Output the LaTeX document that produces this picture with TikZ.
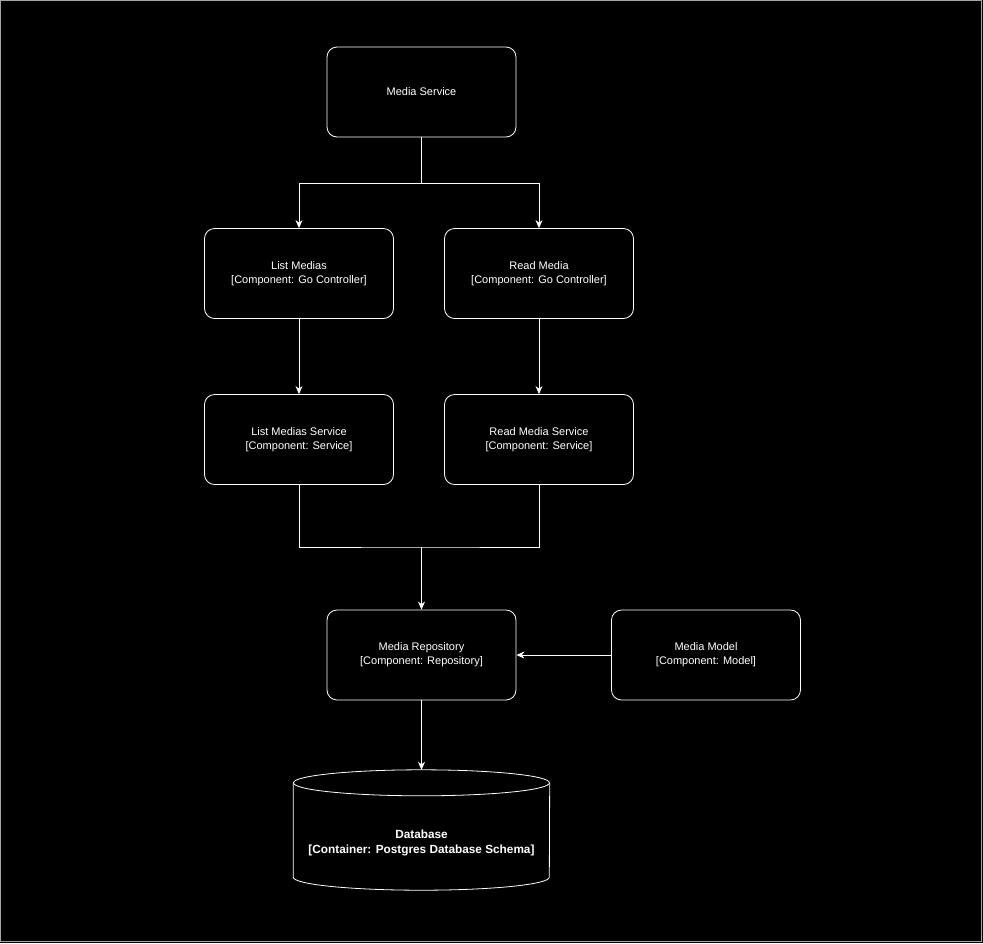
\documentclass[tikz,border=0pt]{standalone}
\usepackage{fontspec}
\setmainfont{Liberation Sans}
\usetikzlibrary{arrows.meta}

\begin{document}
\begin{tikzpicture}[
  x=1pt, y=-1pt,
  font=\fontsize{11}{14}\selectfont,
  comp/.style={draw=white, line width=0.8pt, rounded corners=10pt, minimum width=189pt, minimum height=90pt, align=center, text=white},
  link/.style={draw=white, line width=0.8pt},
  arr/.style={link, -{Stealth[length=8pt, width=7pt, inset=2.5pt]}},
]
% canvas (pixel coordinates, y downwards)
\fill[black] (0,0) rectangle (983,943);
\draw[gray!70, line width=0.6pt] (0.5,0.5) rectangle (981.5,941.5);

% Components
\node[comp] (svc)   at (421.5,92)    {Media Service};
\node[comp] (listc) at (299,273.5)   {List Medias\\{}[Component: Go Controller]};
\node[comp] (readc) at (539,273.5)   {Read Media\\{}[Component: Go Controller]};
\node[comp] (lists) at (299,439.5)   {List Medias Service\\{}[Component: Service]};
\node[comp] (reads) at (539,439.5)   {Read Media Service\\{}[Component: Service]};
\node[comp] (repo)  at (421.5,655)   {Media Repository\\{}[Component: Repository]};
\node[comp] (model) at (706,655)     {Media Model\\{}[Component: Model]};

% Database (cylinder drawn round an empty node)
\node[minimum width=256pt, minimum height=120pt, inner sep=0pt] (db) at (421.5,830) {};
\draw[link] ([yshift=-13pt]db.north) ellipse [x radius=128pt, y radius=13pt];
\draw[link] ([yshift=-13pt]db.north west) -- ([yshift=13pt]db.south west)
  arc[start angle=180, end angle=360, x radius=128pt, y radius=13pt]
  -- ([yshift=-13pt]db.north east);
\node[text=white, font=\bfseries\fontsize{11.8}{15}\selectfont, align=center] (dbtext) at (421.5,843)
  {Database\\{}[Container: Postgres Database Schema]};

% Connectors
\coordinate (fork) at (421.5,183);
\draw[link] (svc.south) -- (fork);
\draw[arr] (fork) -| (listc.north);
\draw[arr] (fork) -| (readc.north);
\draw[arr] (listc.south) -- (lists.north);
\draw[arr] (readc.south) -- (reads.north);

\coordinate (join) at (421.5,547);
\draw[link] (lists.south) |- (join) -| (reads.south);
\draw[arr] (join) -- (repo.north);
\draw[arr] (model.west) -- (repo.east);
\draw[arr] (repo.south) -- (db.north);

\end{tikzpicture}
\end{document}
